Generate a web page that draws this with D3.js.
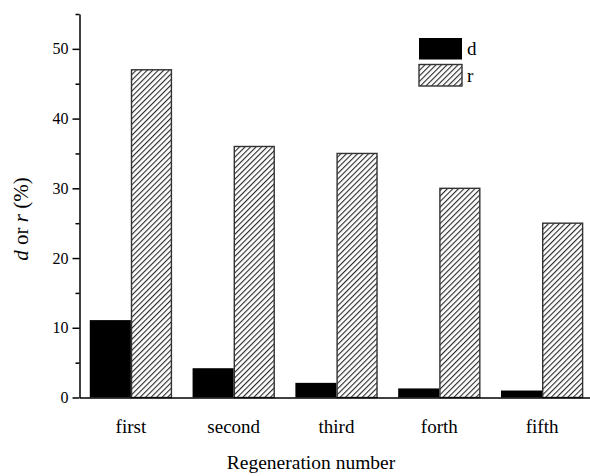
<!DOCTYPE html>
<html>
<head>
<meta charset="utf-8">
<script src="https://cdn.jsdelivr.net/npm/d3@7"></script>
<style>
  html, body { margin: 0; padding: 0; background: #fff; }
  svg { display: block; }
  svg text { font-family: "Liberation Serif", "Times New Roman", serif; fill: #000; }
</style>
</head>
<body>
<svg id="chart" width="590" height="476"></svg>
<script>
// Regeneration cycles and the two measured quantities (%)
const categories = ["first", "second", "third", "forth", "fifth"];
const seriesNames = ["d", "r"];
const dValues = [11.1, 4.2, 2.1, 1.3, 1.0];
const rValues = [47, 36, 35, 30, 25];
const majorTicks = [0, 10, 20, 30, 40, 50];
const minorTicks = [5, 15, 25, 35, 45, 55];

const svg = d3.select("#chart");
const plotLeft = 79.5, plotBottom = 397.5, plotTop = 14;

// Hatch pattern for the r bars
const hatchStep = 3.9;
const defs = svg.append("defs");
const pat = defs.append("pattern")
  .attr("id", "hatch")
  .attr("patternUnits", "userSpaceOnUse")
  .attr("width", hatchStep).attr("height", hatchStep)
  .attr("patternTransform", "rotate(45)");
pat.append("rect").attr("width", hatchStep).attr("height", hatchStep).attr("fill", "#fff");
pat.append("line")
  .attr("x1", 0.6).attr("y1", 0).attr("x2", 0.6).attr("y2", hatchStep)
  .attr("stroke", "#111").attr("stroke-width", 1);

const x = d3.scaleBand()
  .domain(categories)
  .range([plotLeft, plotLeft + 5 * 102.8])
  .paddingInner(0.2)
  .paddingOuter(0.1);

const xs = d3.scaleBand()
  .domain(seriesNames)
  .range([0, x.bandwidth()]);

const y = d3.scaleLinear().domain([0, 55]).range([plotBottom, plotTop]);

const rows = categories.map((c, i) => ({ cat: c, d: dValues[i], r: rValues[i] }));

// Bars
const groups = svg.append("g").selectAll("g")
  .data(rows).join("g")
  .attr("transform", d => `translate(${x(d.cat)},0)`);

groups.append("rect")
  .attr("x", xs("d"))
  .attr("y", d => y(d.d))
  .attr("width", xs.bandwidth())
  .attr("height", d => y(0) - y(d.d))
  .attr("fill", "#000");

groups.append("rect")
  .attr("x", xs("r") + 0.6)
  .attr("y", d => y(d.r))
  .attr("width", xs.bandwidth() - 1.2)
  .attr("height", d => y(0) - y(d.r))
  .attr("fill", "url(#hatch)")
  .attr("stroke", "#333")
  .attr("stroke-width", 1.4);

// X axis: baseline and category labels
const xAxis = svg.append("g").attr("transform", `translate(0,${plotBottom})`)
  .call(d3.axisBottom(x).tickSize(0).tickSizeOuter(0).tickPadding(22));
xAxis.attr("font-family", null);
xAxis.select(".domain").attr("stroke", "#000").attr("stroke-width", 1.5);
xAxis.selectAll(".tick text").attr("font-size", 19);

// Y axis: major and minor ticks
const yAxis = svg.append("g").attr("transform", `translate(${plotLeft},0)`)
  .call(d3.axisLeft(y).tickValues(majorTicks).tickSize(7).tickSizeOuter(0).tickPadding(4));
yAxis.attr("font-family", null);
yAxis.select(".domain").attr("stroke", "#000").attr("stroke-width", 1.5);
yAxis.selectAll(".tick line").attr("stroke", "#000").attr("stroke-width", 1.5);
yAxis.selectAll(".tick text").attr("font-size", 16);

svg.append("g").attr("transform", `translate(${plotLeft},0)`)
  .call(d3.axisLeft(y).tickValues(minorTicks).tickSize(4).tickFormat(""))
  .call(g => g.select(".domain").remove())
  .selectAll(".tick line").attr("stroke", "#000").attr("stroke-width", 1.5);

// Axis titles
svg.append("text")
  .attr("x", 311).attr("y", 469)
  .attr("text-anchor", "middle")
  .attr("font-size", 19.5)
  .text("Regeneration number");

const yt = svg.append("text")
  .attr("transform", "translate(28,219) rotate(-90)")
  .attr("text-anchor", "middle")
  .attr("font-size", 21);
yt.append("tspan").attr("font-style", "italic").text("d");
yt.append("tspan").text(" or ");
yt.append("tspan").attr("font-style", "italic").text("r");
yt.append("tspan").text(" (%)");

// Legend
const legend = svg.append("g").attr("transform", "translate(419,38)");
const li = legend.selectAll("g").data(seriesNames).join("g")
  .attr("transform", (d, i) => `translate(0,${i * 26.5})`);
li.append("rect")
  .attr("width", 43).attr("height", 21.5)
  .attr("fill", d => d === "d" ? "#000" : "url(#hatch)")
  .attr("stroke", d => d === "d" ? "none" : "#333")
  .attr("stroke-width", 1.4);
li.append("text")
  .attr("x", 48).attr("y", 17)
  .attr("font-size", 19)
  .text(d => d);
</script>
</body>
</html>
